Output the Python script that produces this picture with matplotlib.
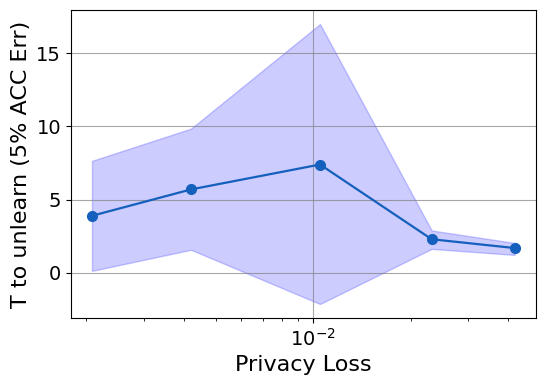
import numpy as np
import matplotlib
matplotlib.use("Agg")
import matplotlib.pyplot as plt

# privacy loss (x) and time-to-unlearn stats
privacy_loss = [0.00208, 0.0042, 0.0105, 0.0232, 0.0418]
t_mean = [3.9, 5.7, 7.4, 2.3, 1.7]
t_upper = [7.65, 9.85, 16.99, 2.9, 2.05]
t_lower = [0.14, 1.58, -2.12, 1.64, 1.23]

fig, ax = plt.subplots(figsize=(5.45, 3.85), dpi=100)
fig.subplots_adjust(left=0.13, right=0.983, bottom=0.174, top=0.974)

ax.fill_between(privacy_loss, t_lower, t_upper, color="blue", alpha=0.2)
ax.plot(privacy_loss, t_mean, "-o", color="#1560bd", markersize=7, linewidth=1.6)

ax.set_xscale("log")
ax.grid(True, color="gray", alpha=0.7)
ax.set_xlabel("Privacy Loss", fontsize=16)
ax.set_ylabel("T to unlearn (5% ACC Err)", fontsize=16)
ax.tick_params(labelsize=14)

plt.savefig("out.png")
